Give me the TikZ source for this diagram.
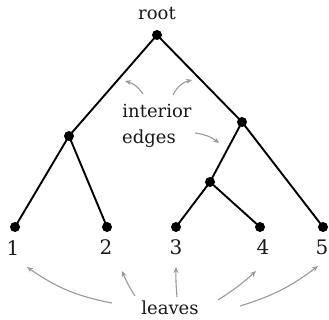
\documentclass[tikz,border=0pt]{standalone}
\usepackage{fontspec}
\setmainfont{DejaVu Serif}
\usetikzlibrary{arrows.meta}
\begin{document}
\begin{tikzpicture}[x=1pt,y=-1pt,
  dot/.style={circle,fill=black,inner sep=0pt,minimum size=10pt},
  edge/.style={line width=1.9pt,black},
  lbl/.style={font=\fontsize{18}{22}\selectfont,inner sep=0pt,text=black!90},
  num/.style={font=\fontsize{20}{24}\selectfont,inner sep=0pt,text=black!90},
  pointer/.style={draw=black!40,line width=1.1pt,-{Stealth[length=6pt,width=5pt]}}]
\useasboundingbox (0,0) rectangle (329,320);
\node[dot] (r) at (157,35) {};
\node[dot] (a) at (69,136) {};
\node[dot] (b) at (242,122) {};
\node[dot] (c) at (210,182) {};
\node[dot] (l1) at (15,227) {};
\node[dot] (l2) at (107,227) {};
\node[dot] (l3) at (176,227) {};
\node[dot] (l4) at (260,227) {};
\node[dot] (l5) at (323,227) {};
\draw[edge] (r.center) -- (a.center) -- (l1.center);
\draw[edge] (a.center) -- (l2.center);
\draw[edge] (r.center) -- (b.center) -- (c.center) -- (l3.center);
\draw[edge] (c.center) -- (l4.center);
\draw[edge] (b.center) -- (l5.center);
\node[lbl] (rt) at (157,14) {root};
\node[num] (n1) at (13,248) {1};
\node[num] (n2) at (106,247) {2};
\node[num] (n3) at (176,247) {3};
\node[num] (n4) at (263,247) {4};
\node[num] (n5) at (322,247) {5};
\node[lbl] (int) at (157,111) {interior};
\node[lbl] (edg) at (149,139) {edges};
\node[lbl] (lv) at (170,308) {leaves};
\coordinate (e1) at (125,81);
\coordinate (e2) at (192,80);
\coordinate (e3) at (219,143);
\coordinate (f1) at (27,267);
\coordinate (f2) at (122,271);
\coordinate (f3) at (176,267);
\coordinate (f4) at (256,271);
\coordinate (f5) at (318,266);
\draw[pointer] (143,94) to[bend right=20] (e1);
\draw[pointer] (173,95) to[bend left=25] (e2);
\draw[pointer] (195,133) to[bend left=15] (e3);
\draw[pointer] (112,303) to[bend left=12] (f1);
\draw[pointer] (135,296) to[bend left=5] (f2);
\draw[pointer] (177,297) to[bend left=3] (f3);
\draw[pointer] (218,300) to[bend right=5] (f4);
\draw[pointer] (240,306) to[bend right=10] (f5);
\end{tikzpicture}
\end{document}
